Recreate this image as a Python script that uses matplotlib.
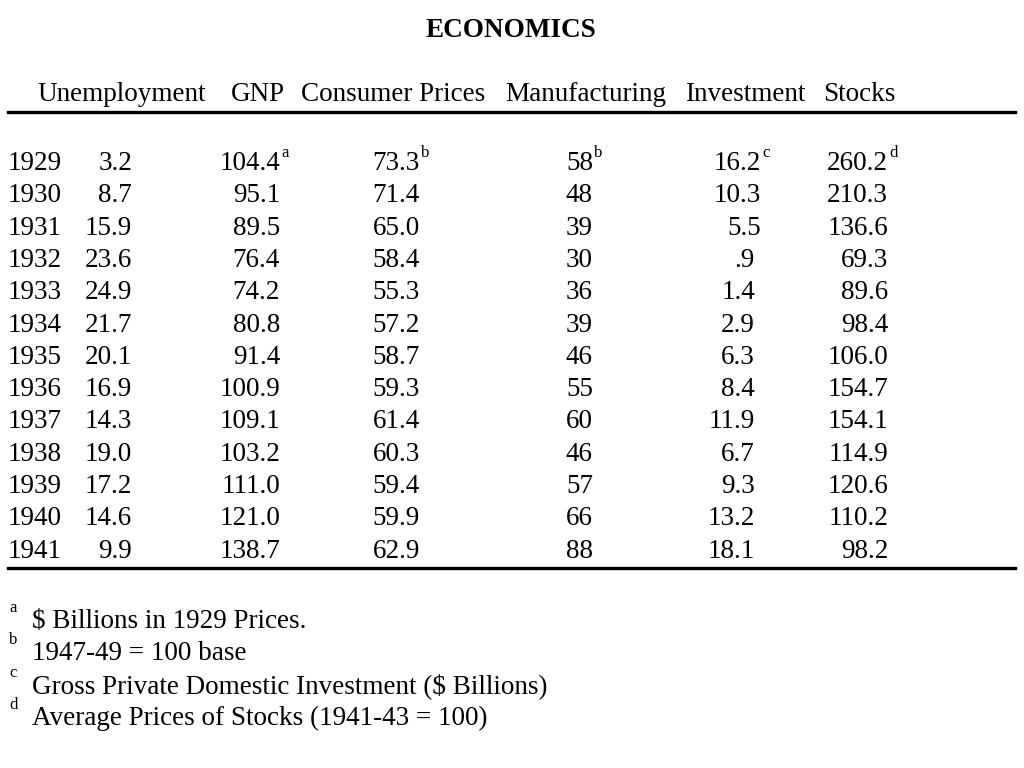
import matplotlib
matplotlib.use("Agg")
import matplotlib.pyplot as plt
from matplotlib.lines import Line2D

title = "ECONOMICS"
headers = ["Unemployment", "GNP", "Consumer Prices", "Manufacturing", "Investment", "Stocks"]
years = [1929, 1930, 1931, 1932, 1933, 1934, 1935, 1936, 1937, 1938, 1939, 1940, 1941]
unemployment = [3.2, 8.7, 15.9, 23.6, 24.9, 21.7, 20.1, 16.9, 14.3, 19.0, 17.2, 14.6, 9.9]
gnp = [104.4, 95.1, 89.5, 76.4, 74.2, 80.8, 91.4, 100.9, 109.1, 103.2, 111.0, 121.0, 138.7]
consumer_prices = [73.3, 71.4, 65.0, 58.4, 55.3, 57.2, 58.7, 59.3, 61.4, 60.3, 59.4, 59.9, 62.9]
manufacturing = [58, 48, 39, 30, 36, 39, 46, 55, 60, 46, 57, 66, 88]
investment = [16.2, 10.3, 5.5, 0.9, 1.4, 2.9, 6.3, 8.4, 11.9, 6.7, 9.3, 13.2, 18.1]
stocks = [260.2, 210.3, 136.6, 69.3, 89.6, 98.4, 106.0, 154.7, 154.1, 114.9, 120.6, 110.2, 98.2]
first_row_marks = ["", "a", "b", "b", "c", "d"]
footnote_marks = ["a", "b", "c", "d"]
footnotes = ["$ Billions in 1929 Prices.",
             "1947-49 = 100 base",
             "Gross Private Domestic Investment ($ Billions)",
             "Average Prices of Stocks (1941-43 = 100)"]

W, H = 1024, 768
fig = plt.figure(figsize=(W / 100, H / 100), dpi=100)
fig.patch.set_facecolor("white")
FONT = "Liberation Serif"
FS = 19.5
SUP = 12


def px(x, y):
    return x / W, 1 - y / H


def put(x, y, s, ha="left", size=FS, weight="normal"):
    fx, fy = px(x, y)
    fig.text(fx, fy, s, ha=ha, va="baseline", fontsize=size,
             fontfamily=FONT, fontweight=weight, color="black")


def fmt1(v):
    s = f"{v:.1f}"
    if s.startswith("0."):
        s = s[1:]
    return s


# Title
put(511, 37, title, ha="center", size=FS, weight="bold")

# Header row
header_x = [37, 231, 301, 505, 685, 823]
for hx, h in zip(header_x, headers):
    put(hx, 101, h)

# Rules
for yy in (111.5, 567.5):
    fig.add_artist(Line2D([8 / W, 1015 / W], [1 - yy / H] * 2,
                          color="black", lw=2.4, transform=fig.transFigure))

# Data
col_right = [132, 280, 420, 593, 755, 888]
row0, dy = 170, 32.3
for i, yr in enumerate(years):
    yb = row0 + i * dy
    put(8, yb, str(yr))
    vals = [fmt1(unemployment[i]), fmt1(gnp[i]), fmt1(consumer_prices[i]),
            str(manufacturing[i]), fmt1(investment[i]), fmt1(stocks[i])]
    for c, (xr, v) in enumerate(zip(col_right, vals)):
        if c == 4 and i < 3:
            xr += 6
        put(xr, yb, v, ha="right")
        if i == 0 and first_row_marks[c]:
            put(xr + 1, yb - 13, first_row_marks[c], size=SUP)

# Footnotes
fn0, fdy = 628, 32.4
for k, (m, t) in enumerate(zip(footnote_marks, footnotes)):
    yb = fn0 + k * fdy
    put(9, yb - 16, m, size=SUP)
    put(32, yb, t)

fig.savefig("out.png", dpi=100, facecolor="white")
